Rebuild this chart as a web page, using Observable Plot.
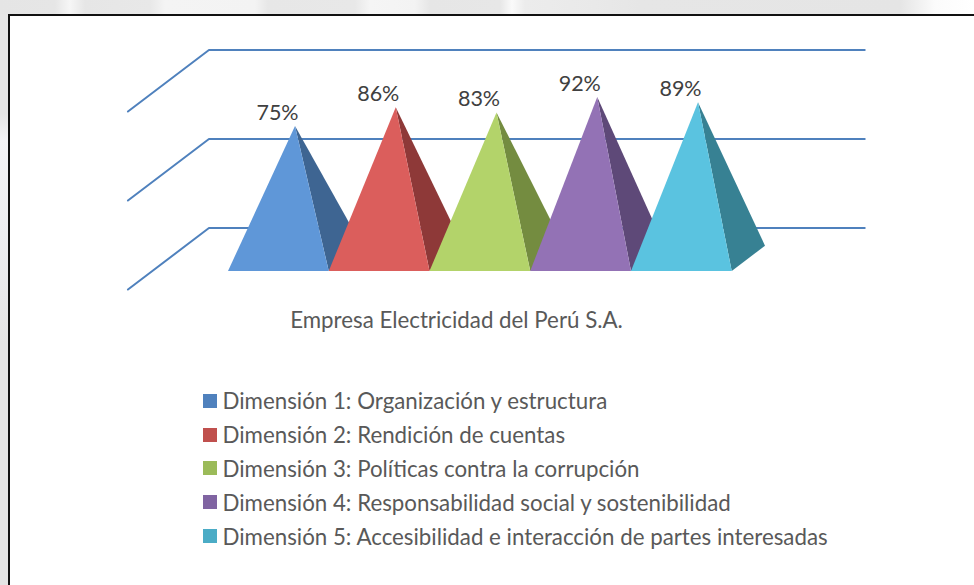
<!DOCTYPE html>
<html lang="es">
<head>
<meta charset="utf-8">
<script src="https://cdn.jsdelivr.net/npm/d3@7"></script>
<script src="https://cdn.jsdelivr.net/npm/@observablehq/plot@0.6"></script>
<style>
  html, body { margin: 0; padding: 0; width: 974px; height: 585px; overflow: hidden; }
  body { position: relative; font-family: Lato, "Open Sans", sans-serif;
         background: linear-gradient(90deg, #e5e5e5 0, #e6e6e6 55px, #f6f6f6 70px, #e6e6e6 85px, #e8e8e8 150px, #f4f4f4 165px, #f3f3f3 255px, #e7e7e7 268px, #e8e8e8 355px, #f5f5f5 370px, #f3f3f3 415px, #e6e6e6 430px, #e7e7e7 500px, #fafafa 512px, #ececec 525px, #e9e9e9 595px, #e6e6e6 640px, #e5e5e5 900px, #fbfbfb 935px, #ffffff 974px); }
  #edge { position: absolute; left: 0; top: 14px; width: 8px; height: 571px;
          background: linear-gradient(180deg, #e6e6e6 0, #e6e6e6 100px, #f4f4f6 125px, #ecedf0 220px, #e8e8ea 280px, #e4e4e4 330px, #e4e4e4 571px); }
  #frame { position: absolute; left: 8px; top: 14px; width: 966px; height: 571px;
           background: #fff; border-left: 2px solid #111; border-top: 2px solid #111; box-sizing: border-box; }
  #chart { position: absolute; left: 0; top: 0; }
  #chart svg { display: block; background: transparent; }
  #legend { position: absolute; left: 203px; top: 384px; color: #595959; font-size: 22.3px; white-space: nowrap; }
  #legend div { display: flex; align-items: center; height: 33.8px; }
  #legend i { display: block; width: 14px; height: 14px; margin-right: 5.5px; }
</style>
</head>
<body>
<div id="edge"></div>
<div id="frame"></div>
<div id="chart"></div>
<div id="legend"></div>
<script>
const dimensions = [
  "Dimensión 1: Organización y estructura",
  "Dimensión 2: Rendición de cuentas",
  "Dimensión 3: Políticas contra la corrupción",
  "Dimensión 4: Responsabilidad social y sostenibilidad",
  "Dimensión 5: Accesibilidad e interacción de partes interesadas"
];
const percentages = [75, 86, 83, 92, 89];
const company = ["Empresa Electricidad del Perú S.A."];
const gridLevels = [15, 67.35, 119.7];

const frontColors = ["#5F97D8", "#DB5E5C", "#B3D36A", "#9372B5", "#5AC3E0"];
const sideColors = ["#3E6592", "#8E3938", "#748C40", "#5E4978", "#378193"];
const legendColors = ["#4F81BD", "#C0504D", "#9BBB59", "#8064A2", "#4BACC6"];

// Oblique projection, expressed in the units of the two scales
const floor = -10.3, depthX = 0.33, depthY = 14.9;
const wallLeft = -0.189, wallRight = 6.32, wallDepthX = 0.804, wallDepthY = 36.2;

const pyramids = percentages.flatMap((v, i) => {
  const apex = {x: i + 0.5 + depthX / 2, y: v};
  const frontRight = {x: i + 1, y: floor};
  const backRight = {x: i + 1 + depthX, y: floor + depthY};
  return [
    {id: `s${i}`, fill: sideColors[i], ...apex},
    {id: `s${i}`, fill: sideColors[i], ...frontRight},
    {id: `s${i}`, fill: sideColors[i], ...backRight},
    {id: `f${i}`, fill: frontColors[i], x: i, y: floor},
    {id: `f${i}`, fill: frontColors[i], ...apex},
    {id: `f${i}`, fill: frontColors[i], ...frontRight}
  ];
});

const gridRows = gridLevels.flatMap((g, k) => [
  {k, x: wallLeft - wallDepthX, y: g - wallDepthY},
  {k, x: wallLeft, y: g},
  {k, x: wallRight, y: g}
]);

const chart = Plot.plot({
  width: 974,
  height: 345,
  margin: 0,
  style: {background: "transparent", overflow: "visible"},
  x: {domain: [0, 5], range: [227.5, 731.25], axis: null},
  y: {domain: [0, 100], range: [253, 83], axis: null},
  marks: [
    Plot.line(gridRows, {x: "x", y: "y", z: "k", stroke: "#4F81BD", strokeWidth: 2}),
    Plot.line(pyramids, {x: "x", y: "y", z: "id", fill: "fill", stroke: "none"}),
    Plot.text(percentages, {
      x: (d, i) => i + 0.5 + depthX / 2,
      y: d => d,
      text: d => `${d}%`,
      dx: -17.5, dy: -13,
      fontFamily: "Lato, sans-serif",
      fontSize: 21.5,
      fill: "#404040"
    }),
    Plot.text(company, {
      frameAnchor: "top",
      dx: -31, dy: 312,
      text: d => d,
      fontFamily: "Lato, sans-serif",
      fontSize: 22.3,
      fill: "#595959"
    })
  ]
});
document.getElementById("chart").append(chart);

const legend = d3.select("#legend").selectAll("div").data(dimensions).join("div");
legend.append("i").style("background", (d, i) => legendColors[i]);
legend.append("span").text(d => d);
</script>
</body>
</html>
